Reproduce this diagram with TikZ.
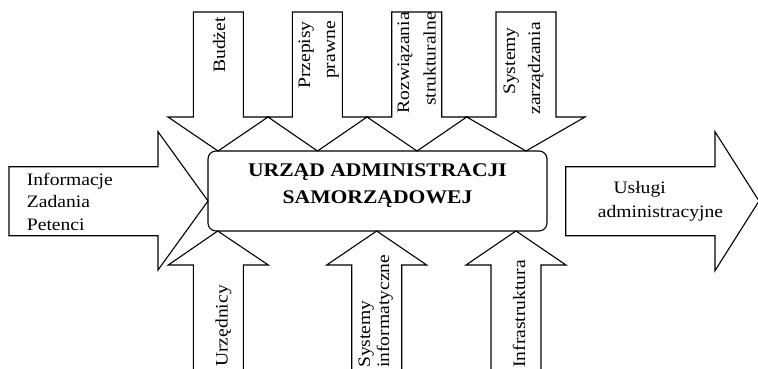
\documentclass[tikz,border=0pt]{standalone}
\usepackage{fontspec}
\setmainfont[FakeStretch=1.12]{Liberation Serif}
\begin{document}
\begin{tikzpicture}[x=1pt,y=-1pt, line join=miter,
  arr/.style={draw=black, line width=1.1pt},
  lbl/.style={inner sep=0pt, font=\fontsize{17.5}{22.5}\selectfont},
  hlbl/.style={lbl, anchor=base west},
  vlbl/.style={lbl, rotate=90, anchor=base east},
  ulbl/.style={lbl, rotate=90, anchor=base west},
  ttl/.style={inner sep=0pt, font=\fontsize{19.3}{26}\selectfont\bfseries, anchor=base}]
\clip (0,0) rectangle (758,368);
% top arrows
\draw[arr] (193.3,12) -- (243.3,12) -- (243.3,117) -- (268,117) -- (218,151) -- (168,117) -- (193.3,117) -- cycle;
\draw[arr] (292.3,12) -- (342.3,12) -- (342.3,117) -- (367,117) -- (317.5,151) -- (268,117) -- (292.3,117) -- cycle;
\draw[arr] (391.7,12) -- (441.7,12) -- (441.7,117) -- (466.7,117) -- (417,151) -- (367,117) -- (391.7,117) -- cycle;
\draw[arr] (496,12) -- (556,12) -- (556,117) -- (585,117) -- (526,151) -- (466.7,117) -- (496,117) -- cycle;
% left and right arrows
\draw[arr] (9,166.7) -- (158,166.7) -- (158,131.7) -- (208,201) -- (158,270) -- (158,235.7) -- (9,235.7) -- cycle;
\draw[arr] (565.7,166.7) -- (715,166.7) -- (715,131.7) -- (759,201) -- (715,270.7) -- (715,235.7) -- (565.7,235.7) -- cycle;
% bottom arrows
\draw[arr] (193.3,375) -- (193.3,265) -- (168.3,265) -- (217.7,231) -- (268.3,265) -- (243.3,265) -- (243.3,375);
\draw[arr] (351.7,375) -- (351.7,265) -- (326.7,265) -- (376.7,231) -- (426.7,265) -- (401.7,265) -- (401.7,375);
\draw[arr] (491,375) -- (491,265) -- (466,265) -- (516,231) -- (566,265) -- (541,265) -- (541,375);
% central box
\node[draw, line width=1.1pt, rounded corners=8pt, minimum width=339pt, minimum height=80pt, inner sep=0pt] (box) at (377.5,191) {};
\node[ttl] (t1) at (377.5,176.7) {URZĄD ADMINISTRACJI};
\node[ttl] (t2) at (377.5,203.3) {SAMORZĄDOWEJ};
% top labels
\node[vlbl] (budzet) at (225,17) {Budżet};
\node[vlbl] (przep1) at (310,21) {Przepisy};
\node[vlbl] (przep2) at (335,21) {prawne};
\node[vlbl] (rozw1) at (409,12) {Rozwiązania};
\node[vlbl] (rozw2) at (435.5,12) {strukturalne};
\node[vlbl] (sz1) at (515,27) {Systemy};
\node[vlbl] (sz2) at (540,22) {zarządzania};
% bottom labels
\node[ulbl] (urz) at (227.5,367) {Urzędnicy};
\node[ulbl] (si1) at (370,368) {Systemy};
\node[ulbl] (si2) at (389,368) {informatyczne};
\node[ulbl] (infra) at (525,368) {Infrastruktura};
% left labels
\node[hlbl] (inf) at (26.7,185) {Informacje};
\node[hlbl] (zad) at (26.7,207.7) {Zadania};
\node[hlbl] (pet) at (26.7,230) {Petenci};
% right labels
\node[hlbl] (usl1) at (613.3,193.3) {Usługi};
\node[hlbl] (usl2) at (597.7,217.3) {administracyjne};
\end{tikzpicture}
\end{document}
